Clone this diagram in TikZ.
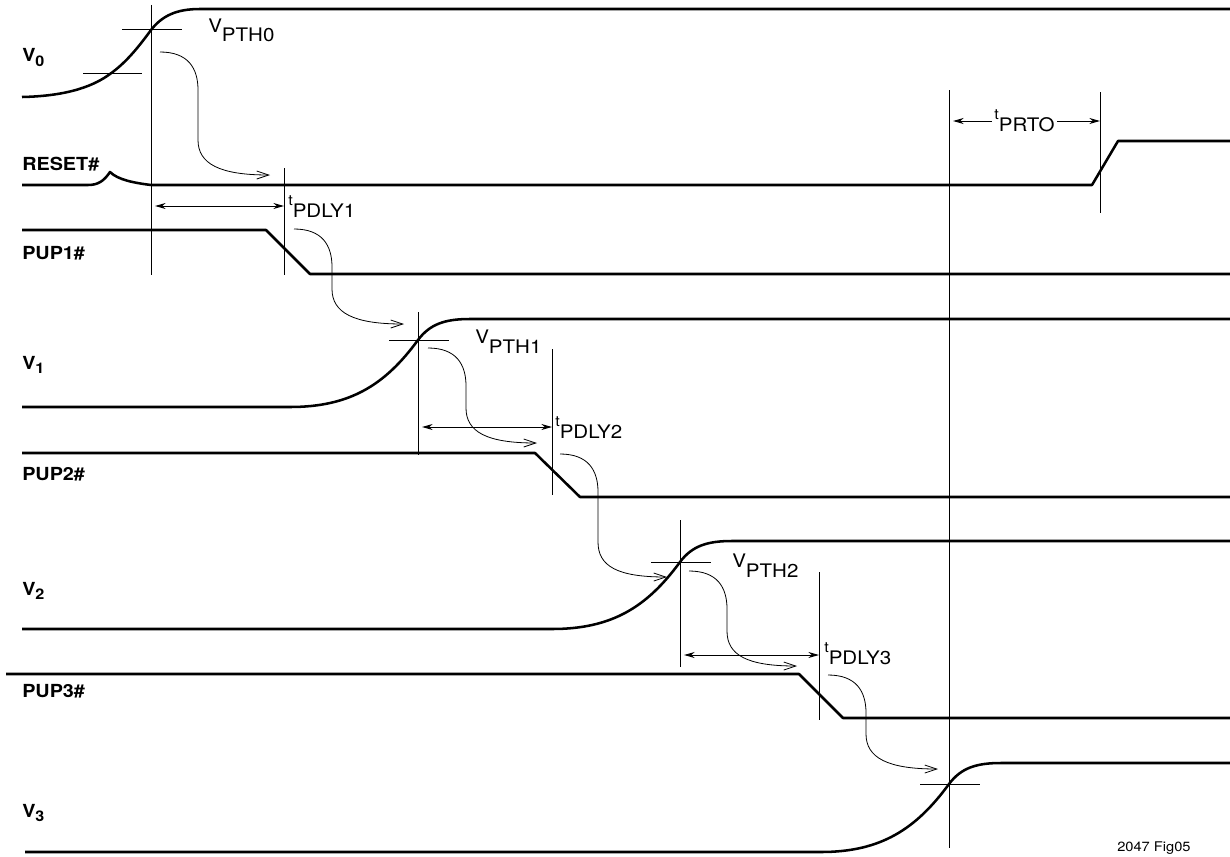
\documentclass[tikz,border=0pt]{standalone}
\usepackage{fontspec}
\setmainfont{TeX Gyre Heros}[FakeStretch=1.1]
\usetikzlibrary{arrows.meta,calc}

\tikzset{
  wave/.style={line width=1.9pt, line join=round},
  guide/.style={line width=0.75pt},
  flow/.style={line width=0.6pt, -{Straight Barb[length=9pt,width=6pt]}},
  span/.style={line width=0.75pt, shorten <=3pt,
    {Stealth[length=8pt,width=4.5pt]}-{Stealth[length=8pt,width=4.5pt]}},
  sname/.style={anchor=base west, inner sep=0pt, font=\fontsize{13.5}{13.5}\selectfont\bfseries},
  tlabel/.style={anchor=base west, inner sep=0pt, font=\fontsize{14}{14}\selectfont},
}
\newcommand{\vsub}[2]{#1\raisebox{-3pt}{\fontsize{11}{11}\selectfont #2}}
\newcommand{\vth}[1]{\raisebox{7pt}{V}#1}
\newcommand{\tdel}[1]{\raisebox{9pt}{\fontsize{11}{11}\selectfont t}#1}

\begin{document}
\begin{tikzpicture}[x=0.75pt,y=-0.75pt]
\useasboundingbox (0,0) rectangle (1230,856);

% threshold crossings
\coordinate (c0) at (151,30);
\coordinate (c1) at (418,340);
\coordinate (c2) at (680,562);
\coordinate (c3) at (949,784);

% tops of the time markers
\coordinate (l0) at (151,5);
\coordinate (l1) at (284,168);
\coordinate (l2) at (418,312);
\coordinate (l3) at (552,349);
\coordinate (l4) at (680,520);
\coordinate (l5) at (819,572);
\coordinate (l6) at (949,90);
\coordinate (l7) at (1100,92);

% signal names
\node [sname] (V0) at (22,62) {\vsub{V}{0}};
\node [sname] (RESET) at (22,170) {RESET\#};
\node [sname] (PUP1) at (22,259) {PUP1\#};
\node [sname] (V1) at (22,369) {\vsub{V}{1}};
\node [sname] (PUP2) at (22,480) {PUP2\#};
\node [sname] (V2) at (22,595) {\vsub{V}{2}};
\node [sname] (PUP3) at (22,697) {PUP3\#};
\node [sname] (V3) at (22,817) {\vsub{V}{3}};

% waveforms
\draw[wave] (22,97) .. controls (70,96) and (95,85) .. (110,74) .. controls (127,62) and (140,45) .. (c0)
  .. controls (162,16) and (176,9) .. (200,9) -- (1230,9);
\draw[wave] (22,185) -- (88,185) .. controls (98,185) and (104,181) .. (110,172)
  .. controls (118,180) and (135,183) .. (151,185) -- (1092,185) -- (1118,141) -- (1230,141);
\draw[wave] (22,230) -- (266,230) -- (310,274) -- (1230,274);
\draw[wave] (22,407) -- ($(c1)+(-128,67)$) .. controls +(60,0) and +(-33,45) .. (c1)
  .. controls +(12,-16) and +(-25,0) .. ($(c1)+(52,-21)$) -- (1230,319);
\draw[wave] (22,453) -- (535,453) -- (580,497) -- (1230,497);
\draw[wave] (22,629) -- ($(c2)+(-128,67)$) .. controls +(60,0) and +(-33,45) .. (c2)
  .. controls +(12,-16) and +(-25,0) .. ($(c2)+(52,-21)$) -- (1230,541);
\draw[wave] (6,674) -- (799,674) -- (843,718) -- (1230,718);
\draw[wave] (25,852) -- ($(c3)+(-128,68)$) .. controls +(60,0) and +(-33,45) .. (c3)
  .. controls +(12,-16) and +(-25,0) .. ($(c3)+(52,-21)$) -- (1230,763);

% threshold ticks
\draw[guide] (83,74) -- (142,74);
\foreach \c in {c0,c1,c2,c3}
  \draw[guide] ($(\c)+(-29,0)$) -- ($(\c)+(31,0)$);

% time markers
\draw[guide] (l0) -- (l0 |- 0,275);
\draw[guide] (l1) -- (l1 |- 0,275);
\draw[guide] (l2) -- (l2 |- 0,455);
\draw[guide] (l3) -- (l3 |- 0,495);
\draw[guide] (l4) -- (l4 |- 0,667);
\draw[guide] (l5) -- (l5 |- 0,720);
\draw[guide] (l6) -- (l6 |- 0,848);
\draw[guide] (l7) -- (l7 |- 0,213);

% delays
\draw[span] (l0 |- 0,206) -- (l1 |- 0,206);
\draw[span] (l2 |- 0,427) -- (l3 |- 0,427);
\draw[span] (l4 |- 0,655) -- (l5 |- 0,655);
\draw[span] (l6 |- 0,121) -- node [fill=white, inner sep=2pt, font=\fontsize{14}{14}\selectfont] (tprto)
  {\tdel{PRTO}} (l7 |- 0,121);

\node [tlabel] (Vpth0) at (208,42) {\vth{PTH0}};
\node [tlabel] (Vpth1) at (475,353) {\vth{PTH1}};
\node [tlabel] (Vpth2) at (732,577) {\vth{PTH2}};
\node [tlabel] (tpdly1) at (288,217) {\tdel{PDLY1}};
\node [tlabel] (tpdly2) at (555,438) {\tdel{PDLY2}};
\node [tlabel] (tpdly3) at (824,664) {\tdel{PDLY3}};

% cause and effect
\coordinate (s1) at (160,52);  \coordinate (t1) at (270,175);
\coordinate (s2) at (294,229); \coordinate (t2) at (404,324);
\coordinate (s3) at (428,348); \coordinate (t3) at (537,443);
\coordinate (s4) at (560,454); \coordinate (t4) at (667,577);
\coordinate (s5) at (689,571); \coordinate (t5) at (797,666);
\coordinate (s6) at (828,675); \coordinate (t6) at (938,769);
\draw[flow] (s1) .. controls +(28,0) and +(0,-22) .. ++(38,38) -- ++(0,50) .. controls +(0,24) and +(-50,0) .. (t1);
\draw[flow] (s2) .. controls +(28,0) and +(0,-22) .. ++(38,38) -- ++(0,22) .. controls +(0,24) and +(-50,0) .. (t2);
\draw[flow] (s3) .. controls +(28,0) and +(0,-22) .. ++(38,38) -- ++(0,22) .. controls +(0,24) and +(-50,0) .. (t3);
\draw[flow] (s4) .. controls +(28,0) and +(0,-22) .. ++(38,38) -- ++(0,50) .. controls +(0,24) and +(-50,0) .. (t4);
\draw[flow] (s5) .. controls +(28,0) and +(0,-22) .. ++(38,38) -- ++(0,22) .. controls +(0,24) and +(-50,0) .. (t5);
\draw[flow] (s6) .. controls +(28,0) and +(0,-22) .. ++(38,38) -- ++(0,21) .. controls +(0,24) and +(-50,0) .. (t6);

\node [anchor=base west, inner sep=0pt, font=\fontsize{10}{10}\selectfont] (fig) at (1117,851) {2047 Fig05};

\end{tikzpicture}
\end{document}
